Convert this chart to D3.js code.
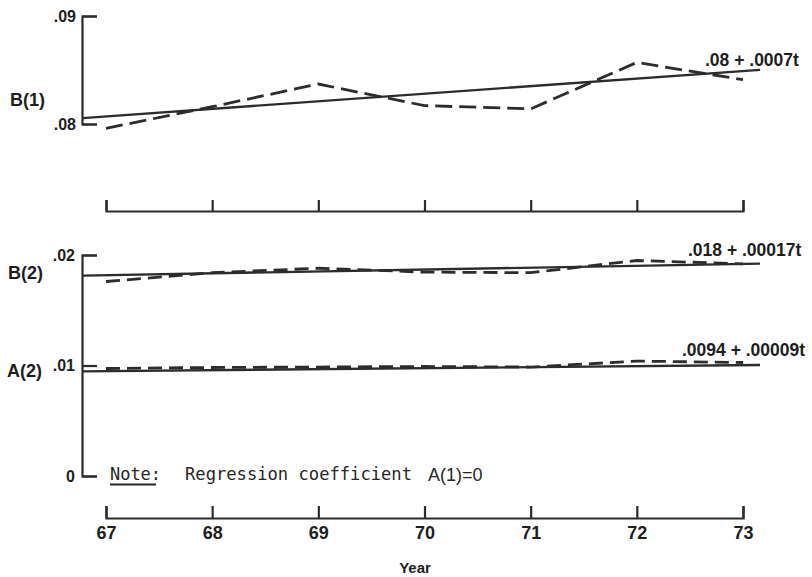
<!DOCTYPE html>
<html>
<head>
<meta charset="utf-8">
<script src="https://cdn.jsdelivr.net/npm/d3@7"></script>
<style>
  html, body { margin: 0; padding: 0; background: #fff; }
  svg { display: block; }
  .axis path, .axis line { stroke: #2c2c2c; stroke-width: 2.2; fill: none; }
  .axis text { font-family: "Liberation Sans", Arial, sans-serif; font-weight: bold; fill: #1e1e1e; }
</style>
</head>
<body>
<svg id="chart" width="812" height="577"></svg>
<script>
// Years on the horizontal axis (19xx)
const years = [67, 68, 69, 70, 71, 72, 73];

// Observed regression coefficients per year
const b1Observed = [0.0796, 0.0816, 0.0837, 0.0817, 0.0814, 0.0857, 0.0841];
const b2Observed = [0.0176, 0.0184, 0.0188, 0.01845, 0.0184, 0.0195, 0.0192];
const a2Observed = [0.00973, 0.00982, 0.00986, 0.00991, 0.00986, 0.0104, 0.01027];

// Fitted linear trends: value = intercept + slope * t, t counted in years from 1966
const trendOrigin = 66;
const trendYears = [66.78, 73.16];
const b1Trend = { intercept: 0.08, slope: 0.0007, label: ".08 + .0007t" };
const b2Trend = { intercept: 0.018, slope: 0.00017, label: ".018 + .00017t" };
const a2Trend = { intercept: 0.0094, slope: 0.00009, label: ".0094 + .00009t" };

// Tick values and their printed labels
const upperTickValues = [0.08, 0.09];
const upperTickLabels = [".08", ".09"];
const lowerTickValues = [0, 0.01, 0.02];
const lowerTickLabels = ["0", ".01", ".02"];
const yearTickLabels = ["67", "68", "69", "70", "71", "72", "73"];

const svg = d3.select("#chart");
svg.append("rect").attr("width", 812).attr("height", 577).attr("fill", "#fff");

const ink = "#2c2c2c";
const textInk = "#1e1e1e";
const sans = "'Liberation Sans', Arial, sans-serif";

const x = d3.scaleLinear().domain([67, 73]).range([106, 743]);
const yUpper = d3.scaleLinear().domain([0.08, 0.09]).range([124, 16]);
const yLower = d3.scaleLinear().domain([0, 0.02]).range([476, 255]);

// ---- vertical axes (ticks point into the plot) ----
svg.append("g").attr("class", "axis")
  .attr("transform", "translate(82,0)")
  .call(d3.axisLeft(yUpper).tickValues(upperTickValues)
    .tickFormat((d, i) => upperTickLabels[i]).tickSize(-15).tickPadding(6))
  .selectAll("text").style("font-size", "16px");

svg.append("g").attr("class", "axis")
  .attr("transform", "translate(82,0)")
  .call(d3.axisLeft(yLower).tickValues(lowerTickValues)
    .tickFormat((d, i) => lowerTickLabels[i]).tickSize(-15).tickPadding(7))
  .selectAll("text").style("font-size", "16px");

// ---- horizontal axes ----
svg.append("g").attr("class", "axis")
  .attr("transform", "translate(0,211)")
  .call(d3.axisBottom(x).tickValues(years).tickFormat("").tickSize(-11));

svg.append("g").attr("class", "axis")
  .attr("transform", "translate(0,518)")
  .call(d3.axisBottom(x).tickValues(years)
    .tickFormat((d, i) => yearTickLabels[i]).tickSize(-12).tickPadding(8))
  .selectAll("text").style("font-size", "18px");

// ---- series ----
function observedLine(yScale) {
  return d3.line().x((d, i) => x(years[i])).y(d => yScale(d));
}
function trendPoints(tr) {
  return trendYears.map(yr => ({ year: yr, value: tr.intercept + tr.slope * (yr - trendOrigin) }));
}
const trendLine = yScale => d3.line().x(d => x(d.year)).y(d => yScale(d.value));

const panels = [
  { obs: b1Observed, trend: b1Trend, y: yUpper, dash: "17,7" },
  { obs: b2Observed, trend: b2Trend, y: yLower, dash: "14,7" },
  { obs: a2Observed, trend: a2Trend, y: yLower, dash: "14,7" }
];

panels.forEach(p => {
  svg.append("path")
    .attr("d", trendLine(p.y)(trendPoints(p.trend)))
    .attr("fill", "none").attr("stroke", ink).attr("stroke-width", 2.4);
  svg.append("path")
    .attr("d", observedLine(p.y)(p.obs))
    .attr("fill", "none").attr("stroke", ink).attr("stroke-width", 2.8)
    .attr("stroke-dasharray", p.dash);
});

// ---- trend equations ----
const eqs = [
  { trend: b1Trend, x: 705, y: 66 },
  { trend: b2Trend, x: 688, y: 256 },
  { trend: a2Trend, x: 682, y: 356 }
];
eqs.forEach(e => {
  svg.append("text").attr("x", e.x).attr("y", e.y)
    .attr("font-family", sans).attr("font-weight", "bold").attr("font-size", "17.5px")
    .attr("fill", textInk).text(e.trend.label);
});

// ---- series names ----
const names = [
  { text: "B(1)", x: 10, y: 106 },
  { text: "B(2)", x: 8, y: 279 },
  { text: "A(2)", x: 7, y: 377 }
];
names.forEach(n => {
  svg.append("text").attr("x", n.x).attr("y", n.y)
    .attr("font-family", sans).attr("font-weight", "bold").attr("font-size", "18px")
    .attr("fill", textInk).text(n.text);
});

// ---- note ----
const mono = "'DejaVu Sans Mono', 'Liberation Mono', monospace";
svg.append("text").attr("x", 110).attr("y", 480)
  .attr("font-family", mono).attr("font-size", "18px").attr("fill", "#262626")
  .attr("textLength", 51).attr("lengthAdjust", "spacingAndGlyphs").text("Note:");
svg.append("line").attr("x1", 110).attr("x2", 156).attr("y1", 484.5).attr("y2", 484.5)
  .attr("stroke", "#262626").attr("stroke-width", 1.8);
svg.append("text").attr("x", 185).attr("y", 480)
  .attr("font-family", mono).attr("font-size", "18px").attr("fill", "#262626")
  .attr("textLength", 227).attr("lengthAdjust", "spacingAndGlyphs").text("Regression coefficient");
svg.append("text").attr("x", 428).attr("y", 481)
  .attr("font-family", sans).attr("font-size", "18px").attr("fill", "#262626")
  .text("A(1)=0");

// ---- axis title ----
svg.append("text").attr("x", 415).attr("y", 573).attr("text-anchor", "middle")
  .attr("font-family", sans).attr("font-weight", "bold").attr("font-size", "15px")
  .attr("fill", textInk).text("Year");
</script>
</body>
</html>
